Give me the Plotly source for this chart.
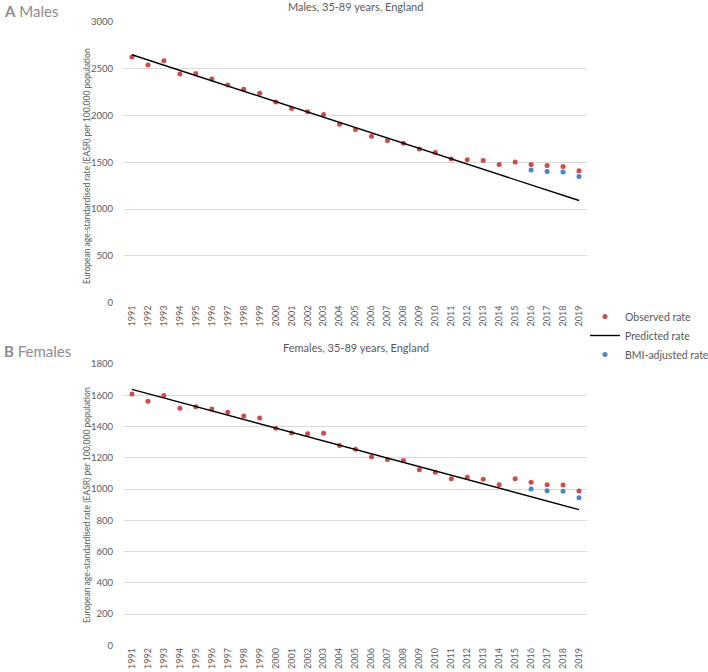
import plotly.graph_objects as go

years = [str(y) for y in range(1991, 2020)]

male_observed = [2625, 2540, 2585, 2445, 2450, 2390, 2328, 2282, 2238, 2145, 2075, 2042, 2012,
                 1908, 1850, 1780, 1733, 1705, 1644, 1605, 1537, 1527, 1519, 1477, 1505,
                 1477, 1466, 1455, 1409]
male_predicted_years = ["1991", "2019"]
male_predicted = [2650, 1092]
bmi_years = ["2016", "2017", "2018", "2019"]
male_bmi = [1417, 1402, 1398, 1348]

female_observed = [1608, 1562, 1598, 1517, 1527, 1512, 1491, 1468, 1455, 1389, 1359, 1353, 1357,
                   1278, 1255, 1206, 1189, 1183, 1123, 1107, 1065, 1075, 1062, 1028, 1065,
                   1043, 1028, 1026, 987]
female_predicted_years = ["1991", "2019"]
female_predicted = [1638, 868]
female_bmi = [1000, 989, 985, 944]

RED = "#cc4b4b"
BLUE = "#4a84c9"
GREY = "#595959"
FONT = "Lato"

W, H = 708, 672
def px_x(p):
    return p / W
def px_y(p):
    return 1 - p / H

xdom = [px_x(124), px_x(587)]
top_dom = [px_y(302.7), px_y(22)]
bot_dom = [px_y(645.3), px_y(364)]

fig = go.Figure()

# Males
fig.add_trace(go.Scatter(x=years, y=male_observed, mode="markers", name="Observed rate",
                         marker=dict(color=RED, size=5), xaxis="x", yaxis="y", legendrank=1))
fig.add_trace(go.Scatter(x=male_predicted_years, y=male_predicted, mode="lines", name="Predicted rate",
                         line=dict(color="black", width=1.4), xaxis="x", yaxis="y", legendrank=2))
fig.add_trace(go.Scatter(x=bmi_years, y=male_bmi, mode="markers", name="BMI-adjusted rate",
                         marker=dict(color=BLUE, size=5), xaxis="x", yaxis="y", legendrank=3))
# Females
fig.add_trace(go.Scatter(x=years, y=female_observed, mode="markers", name="Observed rate",
                         marker=dict(color=RED, size=5), xaxis="x2", yaxis="y2", showlegend=False))
fig.add_trace(go.Scatter(x=female_predicted_years, y=female_predicted, mode="lines", name="Predicted rate",
                         line=dict(color="black", width=1.4), xaxis="x2", yaxis="y2", showlegend=False))
fig.add_trace(go.Scatter(x=bmi_years, y=female_bmi, mode="markers", name="BMI-adjusted rate",
                         marker=dict(color=BLUE, size=5), xaxis="x2", yaxis="y2", showlegend=False))

xaxis_common = dict(type="category", categoryorder="array", categoryarray=years,
                    tickangle=-90, tickfont=dict(size=9, color=GREY, family=FONT),
                    showgrid=False, showline=False, zeroline=False, ticks="",
                    range=[-0.5, len(years) - 0.5], fixedrange=True, automargin=False)
yaxis_common = dict(tickfont=dict(size=9.5, color=GREY, family=FONT), showgrid=True,
                    gridcolor="#d9d9d9", gridwidth=1, zeroline=False, showline=False,
                    ticks="", ticklabelstandoff=10, automargin=False, fixedrange=True)

ytitle = "European age-standardised rate (EASR) per 100,000 population"

fig.update_layout(
    width=W, height=H,
    margin=dict(l=0, r=0, t=0, b=0, autoexpand=False),
    paper_bgcolor="white", plot_bgcolor="white",
    font=dict(family=FONT, color=GREY),
    xaxis=dict(domain=xdom, anchor="y", **xaxis_common),
    yaxis=dict(domain=top_dom, anchor="x", range=[0, 3000], dtick=500, **yaxis_common),
    xaxis2=dict(domain=xdom, anchor="y2", **xaxis_common),
    yaxis2=dict(domain=bot_dom, anchor="x2", range=[0, 1800], dtick=200, **yaxis_common),
    showlegend=True,
    legend=dict(x=px_x(585), y=px_y(302), xanchor="left", yanchor="top",
                font=dict(size=10.5, color=GREY, family=FONT), itemwidth=30,
                tracegroupgap=0, bgcolor="rgba(0,0,0,0)"),
    annotations=[
        dict(text="<b>A</b> Males", x=px_x(2), y=px_y(0), xref="paper", yref="paper",
             xanchor="left", yanchor="top", showarrow=False,
             font=dict(size=15, color="#8c8c8c", family=FONT)),
        dict(text="<b>B</b> Females", x=px_x(2), y=px_y(340), xref="paper", yref="paper",
             xanchor="left", yanchor="top", showarrow=False,
             font=dict(size=15, color="#8c8c8c", family=FONT)),
        dict(text="Males, 35-89 years, England", x=px_x(355.5), y=px_y(7), xref="paper", yref="paper",
             xanchor="center", yanchor="middle", showarrow=False,
             font=dict(size=11, color=GREY, family=FONT)),
        dict(text="Females, 35-89 years, England", x=px_x(355.5), y=px_y(347), xref="paper", yref="paper",
             xanchor="center", yanchor="middle", showarrow=False,
             font=dict(size=11, color=GREY, family=FONT)),
        dict(text=ytitle, x=px_x(87), y=px_y(166), xref="paper", yref="paper",
             xanchor="center", yanchor="middle", textangle=-90, showarrow=False,
             font=dict(size=8.5, color=GREY, family=FONT)),
        dict(text=ytitle, x=px_x(87), y=px_y(505), xref="paper", yref="paper",
             xanchor="center", yanchor="middle", textangle=-90, showarrow=False,
             font=dict(size=8.5, color=GREY, family=FONT)),
    ],
)

fig.write_html("out.html", config={"displayModeBar": False},
               post_script="document.body.style.margin='0';document.body.style.overflow='hidden';")
